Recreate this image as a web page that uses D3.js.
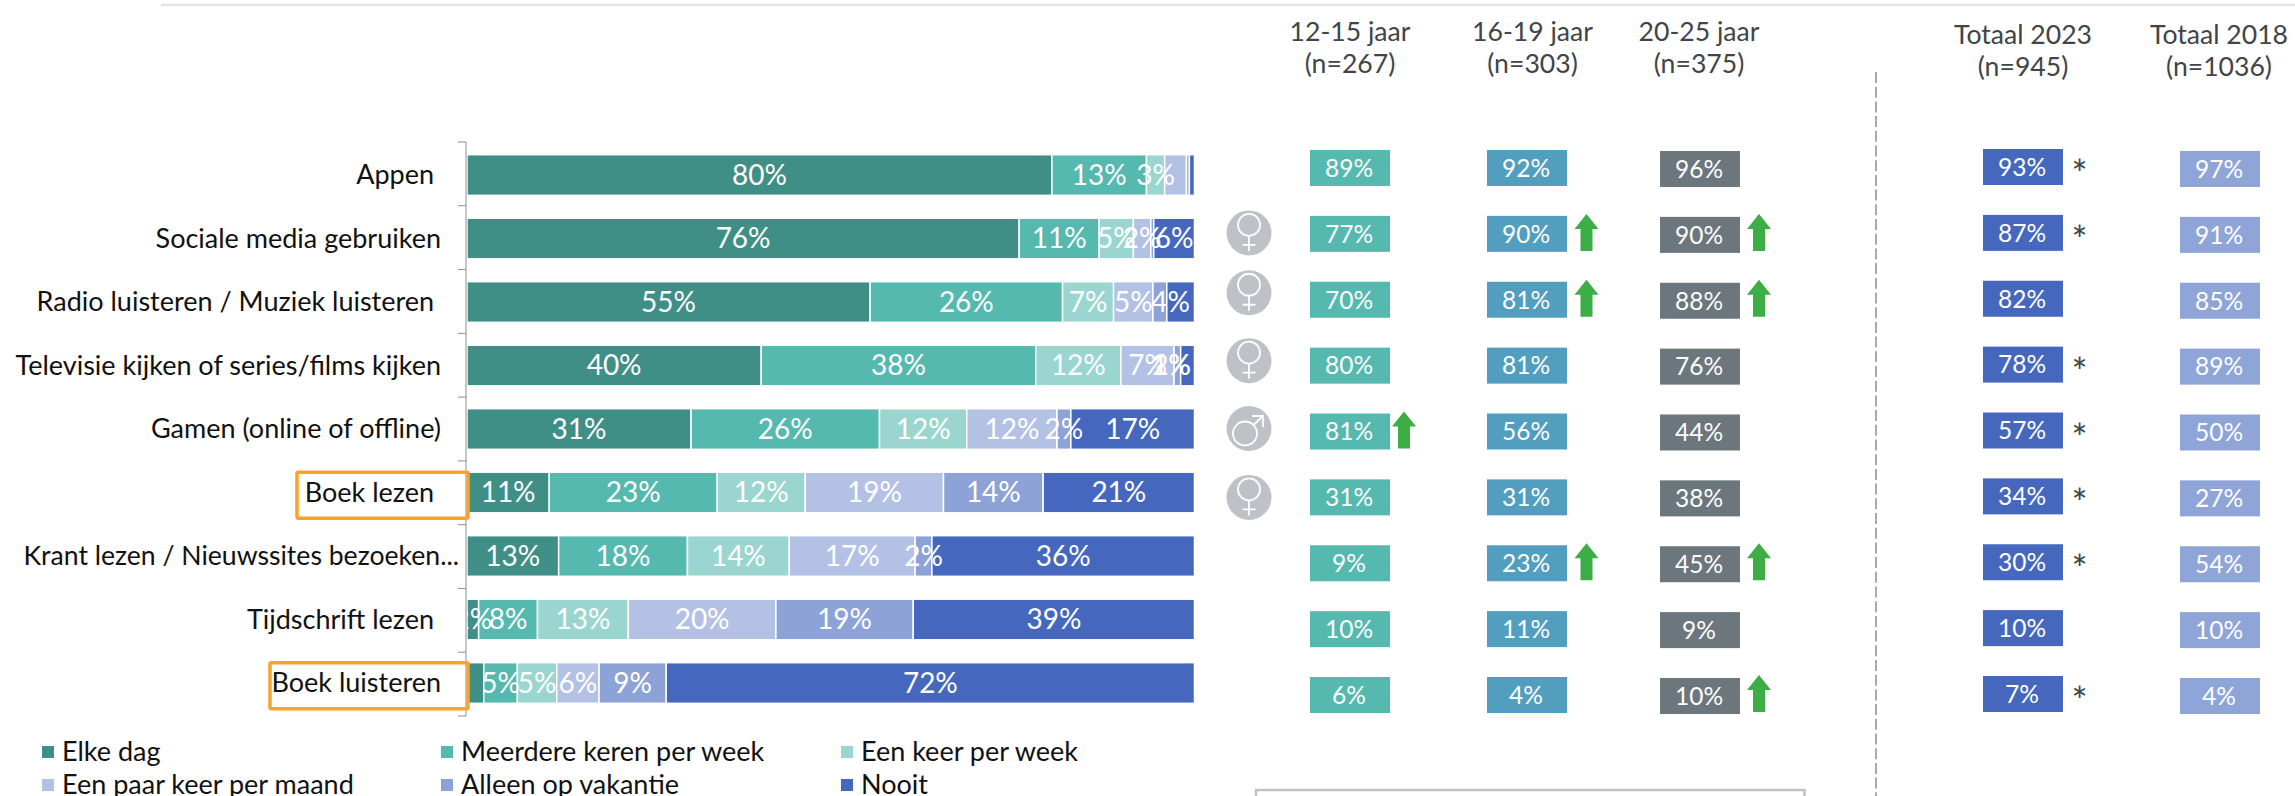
<!DOCTYPE html>
<meta charset="utf-8">
<style>
body { margin: 0; background: #fff; }
svg { display: block; font-family: Lato, sans-serif; }
.axis .domain, .axis line { stroke: #8a9096; }
.axis text { font-family: Lato, sans-serif; font-size: 27px; fill: #111; }
</style>
<svg width="2295" height="796"></svg>
<script src="https://d3js.org/d3.v7.min.js"></script>
<script>

var categories = ["Appen\u00a0", "Sociale media gebruiken", "Radio luisteren / Muziek luisteren\u00a0",
  "Televisie kijken of series/films kijken", "Gamen (online of offline)", "Boek lezen\u00a0",
  "Krant lezen / Nieuwssites bezoeken...", "Tijdschrift lezen\u00a0", "Boek luisteren"];

var frequencies = ["Elke dag", "Meerdere keren per week", "Een keer per week",
  "Een paar keer per maand", "Alleen op vakantie", "Nooit"];

// percentages, one list per answer
var elkeDag   = [80.4, 75.9, 55.3, 40.4, 30.8, 11.3, 12.6, 1.6, 2.3];
var meerdere  = [13, 11, 26.4, 37.7, 25.9, 23.1, 17.7, 8.1, 4.6];
var eenKeer   = [2.5, 4.7, 7, 11.7, 12, 12.1, 14, 12.5, 5.4];
var paarKeer  = [3, 2.4, 5.4, 7.3, 12.4, 19, 17.3, 20.3, 5.8];
var vakantie  = [0.4, 0.4, 1.9, 0.9, 1.9, 13.7, 2.3, 18.9, 9.2];
var nooit     = [0.7, 5.6, 3.8, 1.9, 17, 20.8, 36.1, 38.7, 72.4];

// segments that carry no label in the original: "row-series"
var unlabeled = ["0-3", "0-4", "0-5", "1-4", "2-4", "8-0"];

var age1215 = [89, 77, 70, 80, 81, 31, 9, 10, 6];
var age1619 = [92, 90, 81, 81, 56, 31, 23, 11, 4];
var age2025 = [96, 90, 88, 76, 44, 38, 45, 9, 10];
var tot2023 = [93, 87, 82, 78, 57, 34, 30, 10, 7];
var tot2018 = [97, 91, 85, 89, 50, 27, 54, 10, 4];

var columnNames = ["12-15 jaar", "16-19 jaar", "20-25 jaar", "Totaal 2023", "Totaal 2018"];
var columnN = ["(n=267)", "(n=303)", "(n=375)", "(n=945)", "(n=1036)"];

var upRows1215 = [4];
var upRows1619 = [1, 2, 6];
var upRows2025 = [1, 2, 6, 8];
var starRows = [0, 1, 3, 4, 5, 6, 8];
var femaleRows = [1, 2, 3, 5];
var maleRows = [4];
var highlighted = ["Boek lezen\u00a0", "Boek luisteren"];

var colors = ["#3f8f87", "#55b9b0", "#9ad6cf", "#b3c1e5", "#8da2d6", "#4568be"];
var columnColors = ["#55b9b0", "#529ebf", "#6b767d", "#4568be", "#8fa5d8"];

var svg = d3.select("svg");

var rows = categories.map(function(c, i) {
  return {cat: c, i: i, 0: elkeDag[i], 1: meerdere[i], 2: eenKeer[i], 3: paarKeer[i], 4: vakantie[i], 5: nooit[i]};
});

var x = d3.scaleLinear().domain([0, 1]).range([467, 1194.5]);
var y = d3.scaleBand().domain(categories).range([142, 716]).paddingInner(0.36).paddingOuter(0.2);
var z = d3.scaleOrdinal().domain(d3.range(6)).range(colors);
var edge = d3.scaleLinear().domain([0, categories.length]).range([142, 716]);

svg.append("line").attr("x1", 161).attr("x2", 2295).attr("y1", 5).attr("y2", 5)
    .attr("stroke", "#e3e3e3").attr("stroke-width", 2.5);

var stack = d3.stack().keys(d3.range(6)).offset(d3.stackOffsetExpand)(rows);

var layers = svg.append("g").selectAll("g")
  .data(stack)
  .enter().append("g")
    .attr("fill", function(d) { return z(d.key); });

layers.selectAll("rect")
  .data(function(d) { return d; })
  .enter().append("rect")
    .attr("x", function(d) { return x(d[0]); })
    .attr("y", function(d) { return y(d.data.cat); })
    .attr("width", function(d) { return x(d[1]) - x(d[0]); })
    .attr("height", y.bandwidth())
    .attr("stroke", "#fff")
    .attr("stroke-width", 1.5);

// the small labels that were shifted by hand in the original
var labelNudge = {"2-5": -10, "3-4": -6, "3-5": -16};

var labels = [];
stack.forEach(function(s) {
  s.forEach(function(d) {
    var id = d.data.i + "-" + s.key;
    if (unlabeled.indexOf(id) < 0) labels.push({d: d, id: id, v: d.data[s.key]});
  });
});

svg.append("g").selectAll("text")
  .data(labels)
  .enter().append("text")
    .attr("x", function(l) { return (x(l.d[0]) + x(l.d[1])) / 2 + (labelNudge[l.id] || 0); })
    .attr("y", function(l) { return y(l.d.data.cat) + y.bandwidth() / 2; })
    .attr("dy", "0.35em")
    .attr("text-anchor", "middle")
    .attr("fill", "#fff")
    .attr("font-size", 28)
    .text(function(l) { return Math.round(l.v) + "%"; });

var axis = svg.append("g")
    .attr("class", "axis")
    .attr("transform", "translate(466,0)")
    .call(d3.axisLeft(y).tickSize(0).tickPadding(25).tickSizeOuter(0));

axis.selectAll("text").attr("dy", "0.35em");
axis.selectAll(".tick").filter(function(d) { return d.indexOf("Krant") == 0; })
    .select("text").attr("x", -7).style("font-size", "26.6px");

// ticks sit between the categories, not on them
axis.selectAll(".edge")
  .data(d3.range(categories.length + 1))
  .enter().append("line")
    .attr("class", "edge")
    .attr("x2", -8)
    .attr("y1", function(d) { return edge(d); })
    .attr("y2", function(d) { return edge(d); });

axis.select(".domain").attr("d", "M0,142V716");

// orange boxes round the book labels
svg.append("g").selectAll("rect")
  .data(highlighted)
  .enter().append("rect")
    .attr("x", function(d) { return d == "Boek lezen\u00a0" ? 297 : 270; })
    .attr("y", function(d) { return y(d); })
    .attr("width", function(d) { return d == "Boek lezen\u00a0" ? 171 : 198; })
    .attr("height", 46)
    .attr("rx", 1.5)
    .attr("fill", "none")
    .attr("stroke", "#f9a22f")
    .attr("stroke-width", 3.5);

// right-hand columns
var columnX = d3.scaleOrdinal().domain(columnNames).range([1350, 1527, 1700, 2023, 2220]);
var headerShift = [0, 5.5, -1, 0, -1];
var rowY = d3.scalePoint().domain(d3.range(9)).range([168, 695]);
var boxW = 80, boxH = 36;

[age1215, age1619, age2025, tot2023, tot2018].forEach(function(values, c) {
  var name = columnNames[c];
  var shift = c == 3 ? -1 : c == 0 || c == 1 ? 0 : 1;
  var g = svg.append("g").attr("transform", "translate(" + columnX(name) + "," + shift + ")");

  g.selectAll("rect")
    .data(values)
    .enter().append("rect")
      .attr("x", -boxW / 2)
      .attr("y", function(d, i) { return rowY(i) - boxH / 2; })
      .attr("width", boxW)
      .attr("height", boxH)
      .attr("fill", columnColors[c]);

  g.selectAll("text")
    .data(values)
    .enter().append("text")
      .attr("x", -1)
      .attr("y", function(d, i) { return rowY(i); })
      .attr("dy", "0.36em")
      .attr("text-anchor", "middle")
      .attr("fill", "#fff")
      .attr("font-size", 24.5)
      .text(function(d) { return d + "%"; });

  var top = c < 3 ? 41 : 44;
  var header = svg.append("text")
      .attr("text-anchor", "middle")
      .attr("fill", "#404548")
      .attr("font-size", 26.6);
  header.append("tspan").attr("x", columnX(name) + headerShift[c]).attr("y", top).text(name);
  header.append("tspan").attr("x", columnX(name) + headerShift[c]).attr("y", top + 32).text(columnN[c]);
});

// significance arrows
var arrow = "M0,-18.5L12,-3.5H6V18.5H-6V-3.5H-12Z";
[[upRows1215, 0, 54], [upRows1619, 1, 59.5], [upRows2025, 2, 59]].forEach(function(a) {
  svg.append("g").selectAll("path")
    .data(a[0])
    .enter().append("path")
      .attr("d", arrow)
      .attr("fill", "#3dae46")
      .attr("transform", function(d) {
        return "translate(" + (columnX(columnNames[a[1]]) + a[2]) + "," + (rowY(d) - 1.5) + ")";
      });
});

svg.append("g").selectAll("text")
  .data(starRows)
  .enter().append("text")
    .attr("x", columnX("Totaal 2023") + 56.5)
    .attr("y", function(d) { return rowY(d) + 20; })
    .attr("text-anchor", "middle")
    .attr("fill", "#404548")
    .attr("font-size", 38)
    .text("*");

// gender badges
var iconX = 1249;
var iconNudge = {1: -1, 2: -7, 3: -5, 4: -3, 5: 0};

var female = svg.append("g").selectAll("g")
  .data(femaleRows)
  .enter().append("g")
    .attr("transform", function(d) { return "translate(" + iconX + "," + (rowY(d) + iconNudge[d]) + ")"; });

female.append("ellipse").attr("rx", 22.5).attr("ry", 22.5).attr("fill", "#bec1c6");
female.append("circle").attr("cy", -8).attr("r", 11).attr("fill", "none").attr("stroke", "#fff").attr("stroke-width", 1.8);
female.append("path").attr("d", "M0,3V18M-6.5,12H6.5").attr("fill", "none").attr("stroke", "#fff").attr("stroke-width", 1.8);

var male = svg.append("g").selectAll("g")
  .data(maleRows)
  .enter().append("g")
    .attr("transform", function(d) { return "translate(" + iconX + "," + (rowY(d) + iconNudge[d]) + ")"; });

male.append("ellipse").attr("rx", 22.5).attr("ry", 22.5).attr("fill", "#bec1c6");
male.append("circle").attr("cx", -4).attr("cy", 5).attr("r", 12).attr("fill", "none").attr("stroke", "#fff").attr("stroke-width", 1.8);
male.append("path").attr("d", "M4.5,-3.5L14,-12.5M3,-12.5H14V-1.5").attr("fill", "none").attr("stroke", "#fff").attr("stroke-width", 1.8);

// divider and the box cut off at the bottom
svg.append("line").attr("x1", 1876).attr("x2", 1876).attr("y1", 72).attr("y2", 796)
    .attr("stroke", "#8a9094").attr("stroke-width", 1.5).attr("stroke-dasharray", "11,3.7");

svg.append("path").attr("d", "M1256,796V790H1804.5V796")
    .attr("fill", "none").attr("stroke", "#bec1c6").attr("stroke-width", 2.5);

// legend, two rows of three
var legendX = [42, 441, 841], legendY = [746, 779];
var legend = svg.append("g").selectAll("g")
  .data(frequencies)
  .enter().append("g")
    .attr("transform", function(d, i) { return "translate(" + legendX[i % 3] + "," + legendY[Math.floor(i / 3)] + ")"; });

legend.append("rect").attr("width", 12).attr("height", 12)
    .attr("fill", function(d, i) { return colors[i]; });

legend.append("text")
    .attr("x", 20)
    .attr("y", 14.5)
    .attr("fill", "#111")
    .attr("font-size", 27)
    .text(function(d) { return d; });

</script>
